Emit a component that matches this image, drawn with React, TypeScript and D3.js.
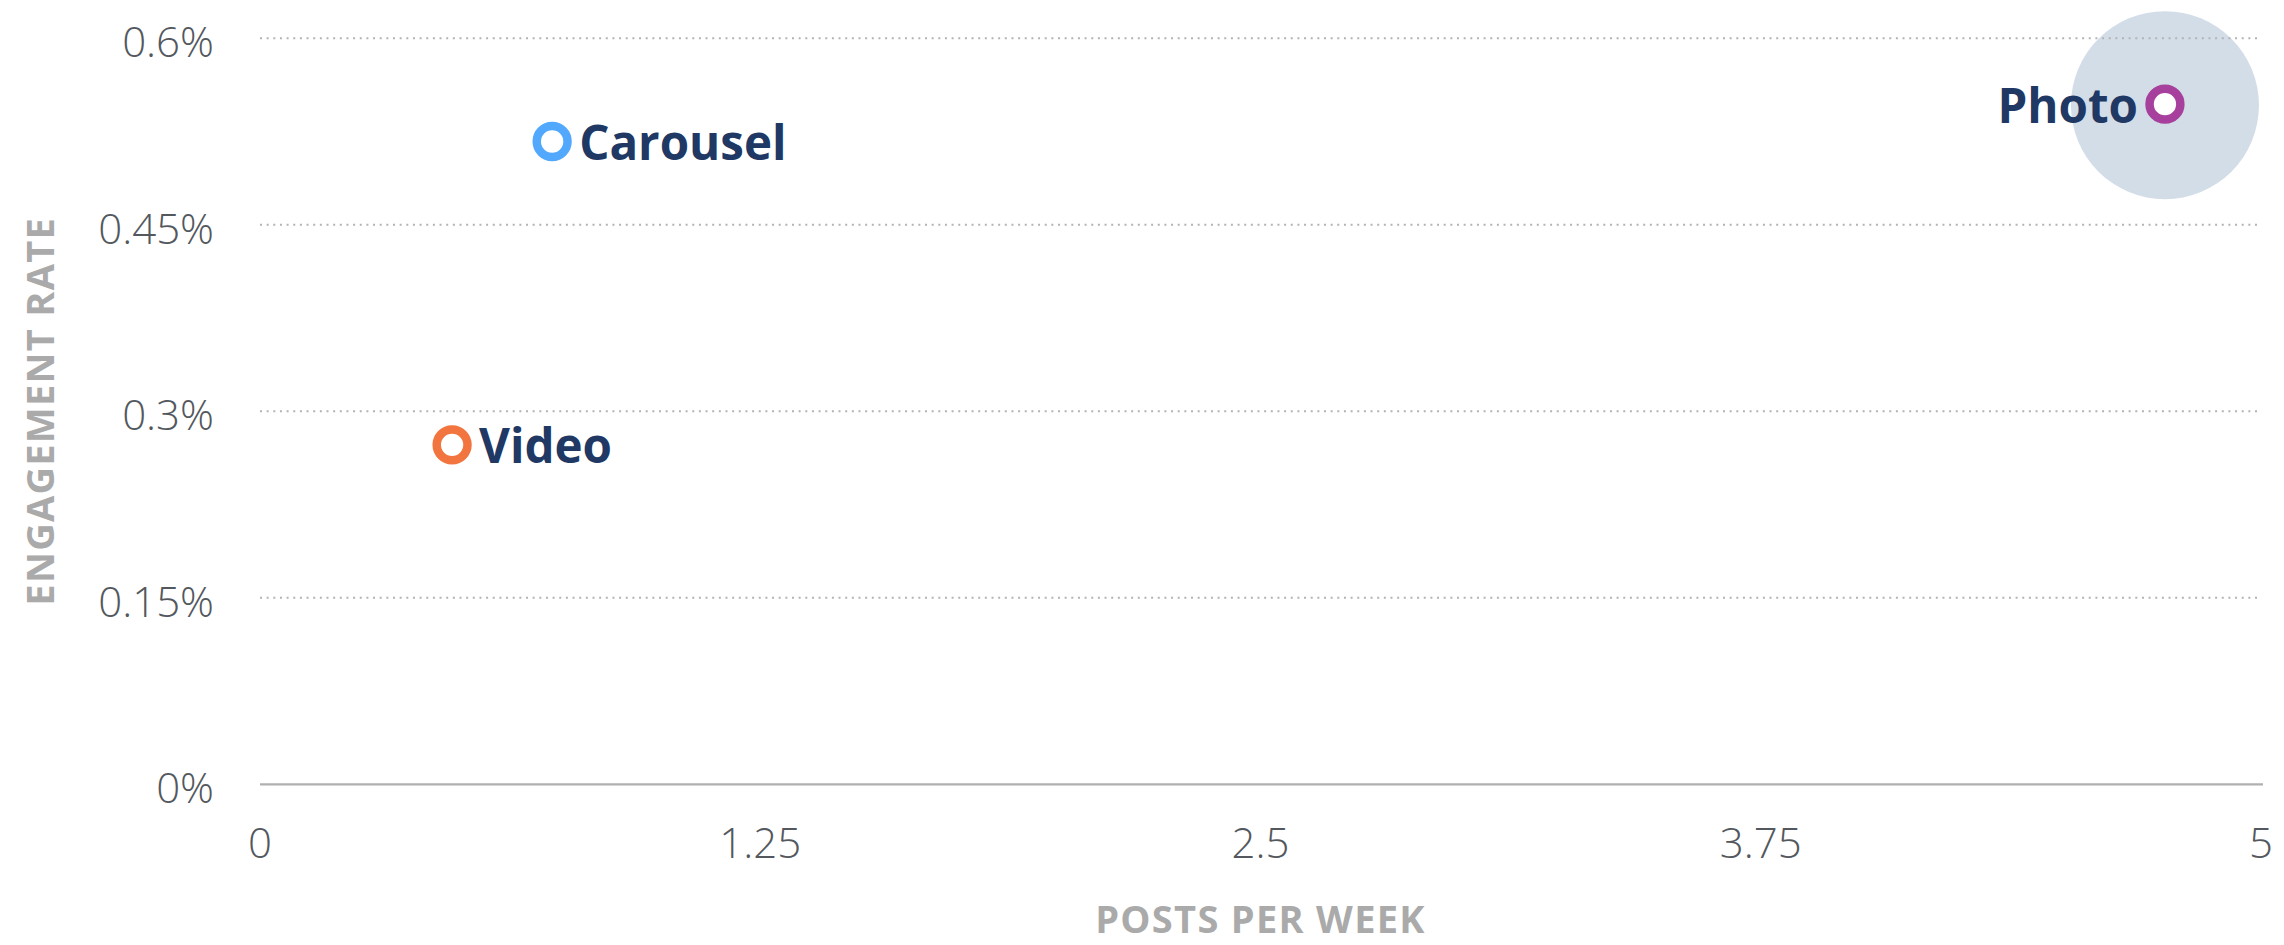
import React from "react";
import * as d3 from "d3";

// ---- data ----
const categories = ["Carousel", "Video", "Photo"];
const postsPerWeek = [0.73, 0.48, 4.76];
const engagementRate = [0.517, 0.273, 0.547]; // percent
const highlighted = ["Photo"];
const xTicks = [0, 1.25, 2.5, 3.75, 5];
const yTicks = [0, 0.15, 0.3, 0.45, 0.6];
const xTitle = "POSTS PER WEEK";
const yTitle = "ENGAGEMENT RATE";

const markerColors: Record<string, string> = {
  Carousel: "#52a8fc",
  Video: "#f2753f",
  Photo: "#a6409c",
};
const labelSide: Record<string, "left" | "right"> = {
  Carousel: "right",
  Video: "right",
  Photo: "left",
};

const W = 2284;
const H = 945;
const plot = { left: 260, right: 2261, top: 38.3, bottom: 784.3 };
const FONT = "'Open Sans', 'Noto Sans', sans-serif";

export default function App() {
  const x = d3.scaleLinear().domain([0, 5]).range([plot.left, plot.right]);
  const y = d3.scaleLinear().domain([0, 0.6]).range([plot.bottom, plot.top]);
  const fmtY = (v: number) => `${d3.format("~g")(v)}%`;
  const fmtX = (v: number) => d3.format("~g")(v);

  const points = categories.map((c, i) => ({
    name: c,
    cx: x(postsPerWeek[i]),
    cy: y(engagementRate[i]),
  }));

  return (
    <div style={{ position: "absolute", left: 0, top: 0, width: W, height: H, background: "#fff" }}>
      <svg width={W} height={H} style={{ display: "block" }}>
        {/* highlight halos */}
        {points
          .filter((p) => highlighted.includes(p.name))
          .map((p) => (
            <circle key={"h" + p.name} cx={p.cx} cy={p.cy + 1} r={94} fill="#d3dde7" />
          ))}

        {/* grid lines */}
        {yTicks
          .filter((t) => t !== 0)
          .map((t) => (
            <line
              key={"g" + t}
              x1={plot.left}
              x2={plot.right - 4}
              y1={y(t)}
              y2={y(t)}
              stroke="#b3b3b3"
              strokeWidth={2}
              strokeDasharray="2 4.65"
            />
          ))}
        {/* x axis baseline */}
        <line x1={plot.left} x2={plot.right + 2} y1={y(0)} y2={y(0)} stroke="#b0b0b0" strokeWidth={2.2} />

        {/* y tick labels */}
        {yTicks.map((t) => (
          <text
            key={"yl" + t}
            x={214}
            y={y(t) + 19}
            textAnchor="end"
            fontFamily={FONT}
            fontSize={42}
            fontWeight={300}
            fill="#53585e"
          >
            {fmtY(t)}
          </text>
        ))}

        {/* x tick labels */}
        {xTicks.map((t) => (
          <text
            key={"xl" + t}
            x={x(t)}
            y={858}
            textAnchor="middle"
            fontFamily={FONT}
            fontSize={42}
            fontWeight={300}
            fill="#53585e"
          >
            {fmtX(t)}
          </text>
        ))}

        {/* axis titles */}
        <text
          x={(plot.left + plot.right) / 2}
          y={933}
          textAnchor="middle"
          fontFamily={FONT}
          fontWeight={700}
          fontSize={38}
          letterSpacing={1.3}
          fill="#aaaaaa"
        >
          {xTitle}
        </text>
        <text
          transform={`translate(54, ${(plot.top + plot.bottom) / 2}) rotate(-90)`}
          textAnchor="middle"
          fontFamily={FONT}
          fontWeight={700}
          fontSize={38}
          letterSpacing={1.3}
          fill="#aaaaaa"
        >
          {yTitle}
        </text>

        {/* points */}
        {points.map((p) => (
          <g key={p.name}>
            <circle
              cx={p.cx}
              cy={p.cy}
              r={15.4}
              fill="#ffffff"
              stroke={markerColors[p.name]}
              strokeWidth={8.5}
            />
            <text
              x={labelSide[p.name] === "right" ? p.cx + 27 : p.cx - 27}
              y={p.cy + 18.5}
              textAnchor={labelSide[p.name] === "right" ? "start" : "end"}
              fontFamily={FONT}
              fontWeight={700}
              fontSize={47.5}
              fill="#203864"
            >
              {p.name}
            </text>
          </g>
        ))}
      </svg>
    </div>
  );
}
